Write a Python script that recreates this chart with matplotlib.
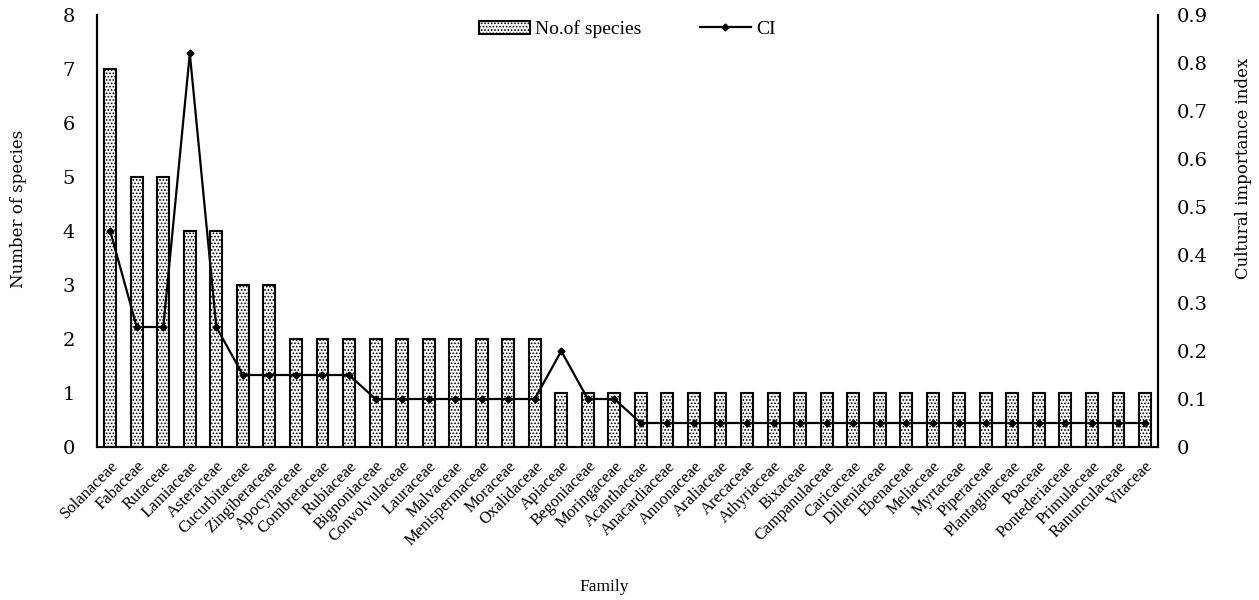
import matplotlib.pyplot as plt
import numpy as np

families = ["Solanaceae", "Fabaceae", "Rutaceae", "Lamiaceae", "Asteraceae",
            "Cucurbitaceae", "Zingiberaceae", "Apocynaceae", "Combretaceae",
            "Rubiaceae", "Bignoniaceae", "Convolvulaceae", "Lauraceae",
            "Malvaceae", "Menispermaceae", "Moraceae", "Oxalidaceae", "Apiaceae",
            "Begoniaceae", "Moringaceae", "Acanthaceae", "Anacardiaceae",
            "Annonaceae", "Araliaceae", "Arecaceae", "Athyriaceae", "Bixaceae",
            "Campanulaceae", "Caricaceae", "Dilleniaceae", "Ebenaceae",
            "Meliaceae", "Myrtaceae", "Piperaceae", "Plantaginaceae", "Poaceae",
            "Pontederiaceae", "Primulaceae", "Ranunculaceae", "Vitaceae"]

species = [7, 5, 5, 4, 4, 3, 3, 2, 2, 2, 2, 2, 2, 2, 2, 2, 2, 1, 1, 1,
           1, 1, 1, 1, 1, 1, 1, 1, 1, 1, 1, 1, 1, 1, 1, 1, 1, 1, 1, 1]

ci = [0.45, 0.25, 0.25, 0.82, 0.25, 0.15, 0.15, 0.15, 0.15, 0.15,
      0.10, 0.10, 0.10, 0.10, 0.10, 0.10, 0.10, 0.20, 0.10, 0.10,
      0.05, 0.05, 0.05, 0.05, 0.05, 0.05, 0.05, 0.05, 0.05, 0.05,
      0.05, 0.05, 0.05, 0.05, 0.05, 0.05, 0.05, 0.05, 0.05, 0.05]

plt.rcParams['font.family'] = ['Liberation Serif', 'DejaVu Serif']
plt.rcParams['hatch.linewidth'] = 0.8
num_font = 'DejaVu Serif'

fig, ax = plt.subplots(figsize=(12.59, 6), dpi=100)
fig.subplots_adjust(left=0.077, right=0.92, top=0.975, bottom=0.255)

x = np.arange(len(families))
bars = ax.bar(x, species, width=0.45, facecolor='white', edgecolor='black',
              hatch='.....', linewidth=1.5, label='No.of species')

ax2 = ax.twinx()
line, = ax2.plot(x, ci, color='black', linewidth=1.6, marker='D',
                 markersize=3.5, label='CI')

ax.set_xlim(-0.5, len(families) - 0.5)
ax.set_ylim(0, 8)
ax2.set_ylim(0, 0.9)
ax.set_yticks(range(0, 9))
ax2.set_yticks(np.arange(0, 0.91, 0.1))
ax2.set_yticklabels(['0'] + [f"{v:.1f}" for v in np.arange(0.1, 0.91, 0.1)])

ax.set_xticks(x)
ax.set_xticklabels(families, rotation=45, ha='right', rotation_mode='anchor',
                   fontsize=12)
ax.tick_params(axis='x', length=0, pad=8)
ax.tick_params(axis='y', length=0, labelsize=14, pad=16)
ax2.tick_params(axis='y', length=0, labelsize=14, pad=13)
for lab in ax.get_yticklabels() + ax2.get_yticklabels():
    lab.set_family(num_font)

for a in (ax, ax2):
    a.spines['top'].set_visible(False)
    for s in ('left', 'right', 'bottom'):
        a.spines[s].set_linewidth(1.5)

ax.set_ylabel("Number of species", fontsize=12, family=num_font)
ax.yaxis.set_label_coords(-0.0655, 0.552)
ax2.set_ylabel("Cultural importance index", fontsize=12, family=num_font)
ax2.yaxis.set_label_coords(1.0724, 0.645)
ax.set_xlabel("Family", fontsize=12.5)
ax.xaxis.set_label_coords(0.478, -0.306)

ax.legend([bars, line], ['No.of species', 'CI'], loc='upper center',
          bbox_to_anchor=(0.5, 1.028), ncol=2, frameon=False, fontsize=14,
          columnspacing=3.0, handlelength=2.6, handletextpad=0.3)

fig.savefig("out.png", dpi=100)
